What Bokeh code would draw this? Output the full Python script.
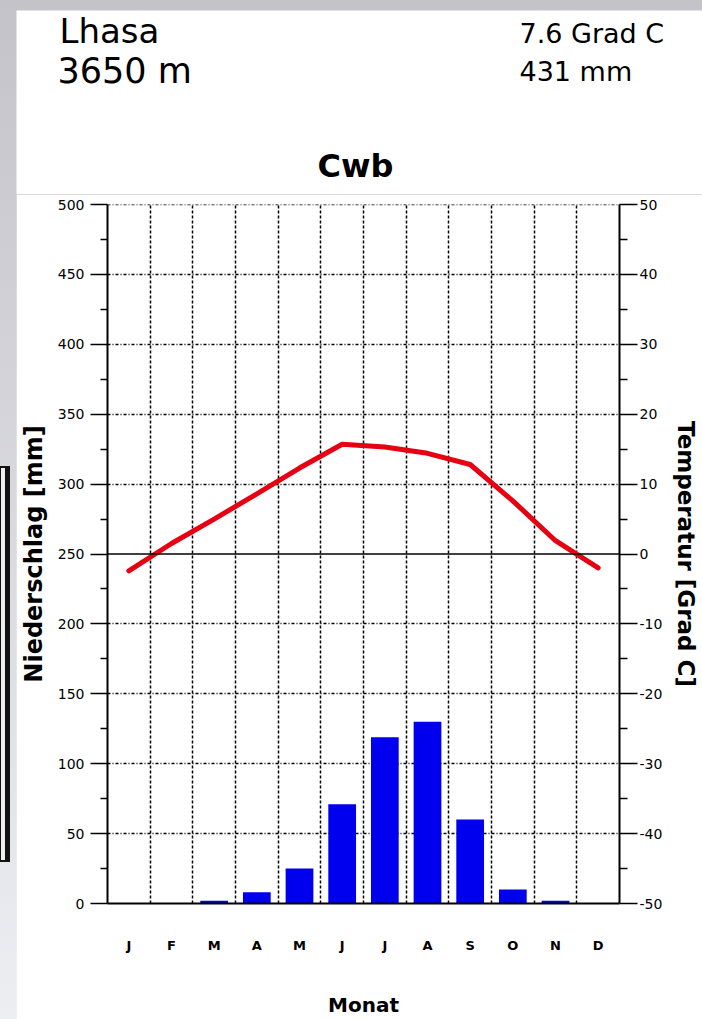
from bokeh.plotting import figure
from bokeh.models import (Range1d, LinearAxis, FixedTicker, Span, ColumnDataSource)
from bokeh.core.properties import value
from bokeh.embed import file_html
from bokeh.resources import INLINE

# ---- data ----
months = [1, 2, 3, 4, 5, 6, 7, 8, 9, 10, 11, 12]
month_labels = ["J", "F", "M", "A", "M", "J", "J", "A", "S", "O", "N", "D"]
precip_mm = [0, 0, 2, 8, 25, 71, 119, 130, 60, 10, 2, 0]
temp_c = [-2.4, 1.5, 5.0, 8.6, 12.3, 15.7, 15.3, 14.4, 12.8, 7.6, 1.9, -2.0]
station = "Lhasa"
elevation = "3650 m"
mean_temp = "7.6 Grad C"
annual_precip = "431 mm"
climate_class = "Cwb"
precip_ticks = [0, 50, 100, 150, 200, 250, 300, 350, 400, 450, 500]
temp_ticks = [-50, -40, -30, -20, -10, 0, 10, 20, 30, 40, 50]

FONT = "DejaVu Sans"
PAGE_X0, PAGE_Y0 = 16, 10       # where the canvases start on the page
W = 686
H_HEAD = 184                    # header: page y 10..194
H_MAIN = 825                    # chart:  page y 194..1019
BL, BR, BT, BB = 88, 79, 10, 116

# ---------- header (station name, height, means, climate class) ----------
hd = figure(width=W, height=H_HEAD, output_backend="svg", toolbar_location=None,
            x_range=Range1d(0, W), y_range=Range1d(H_HEAD, 0),
            x_axis_location=None, y_axis_location=None, min_border=0,
            outline_line_color=None, background_fill_color="white",
            border_fill_color="white")
hd.grid.visible = False

def head_text(txt, px, py_base, size_px, align="left", bold=False):
    # py_base: wanted page y of the text baseline
    hd.text(x=[px - PAGE_X0], y=[py_base - PAGE_Y0 - 0.41 * size_px], text=[txt],
            text_font=value(FONT), text_font_size=value("%dpx" % size_px),
            text_align=align, text_baseline="alphabetic", text_color="black",
            text_font_style="bold" if bold else "normal")

head_text(station, 59, 44, 34)
head_text(elevation, 57, 85, 35)
head_text(mean_temp, 519, 44, 27)
head_text(annual_precip, 519, 82, 27)
head_text(climate_class, 355, 179, 32, align="center", bold=True)

# ---------- climate chart ----------
p = figure(width=W, height=H_MAIN, output_backend="svg", toolbar_location=None,
           x_range=Range1d(0.5, 12.5), y_range=Range1d(0, 500),
           min_border_left=BL, min_border_right=BR, min_border_top=BT,
           min_border_bottom=BB, outline_line_color=None,
           background_fill_color="white", border_fill_color="white")
p.extra_y_ranges = {"temp": Range1d(-50, 50)}

# grids
p.xgrid.ticker = FixedTicker(ticks=[m + 0.5 for m in months[:-1]])
p.xgrid.grid_line_color = "black"
p.xgrid.grid_line_dash = "3 2"
p.xgrid.grid_line_width = 1.5
p.ygrid.ticker = FixedTicker(ticks=[t for t in precip_ticks if t not in (0, 250)])
p.ygrid.grid_line_color = "black"
p.ygrid.grid_line_dash = "3 2 1 2"
p.ygrid.grid_line_width = 1.5
p.add_layout(Span(location=precip_ticks[-1], dimension="width", line_color="black",
                  line_dash="3 2 1 2", line_width=1.5))

# bars
src = ColumnDataSource(dict(x=months, top=precip_mm))
p.vbar(x="x", top="top", bottom=0, width=0.65, source=src,
       fill_color="#0000ee", line_color=None)

# zero-degree line
p.add_layout(Span(location=250, dimension="width", line_color="black", line_width=1.5))

# temperature line
p.line(months, temp_c, y_range_name="temp", line_color="#e60012", line_width=5,
       line_join="round", line_cap="round")

# x axis
xa = p.xaxis[0]
xa.ticker = FixedTicker(ticks=months)
xa.major_label_overrides = {m: l for m, l in zip(months, month_labels)}
xa.major_tick_out = 0
xa.major_tick_in = 0
xa.minor_tick_out = 0
xa.axis_line_width = 2
xa.major_label_standoff = 34
xa.major_label_text_font = FONT
xa.major_label_text_font_style = "bold"
xa.major_label_text_font_size = "13px"
xa.major_label_text_color = "black"
xa.axis_label = "Monat"
xa.axis_label_text_font = FONT
xa.axis_label_text_font_style = "bold"
xa.axis_label_text_font_size = "20px"
xa.axis_label_text_color = "black"
xa.axis_label_standoff = 37

# left axis
ya = p.yaxis[0]
ya.ticker = FixedTicker(ticks=precip_ticks, minor_ticks=[t + 25 for t in precip_ticks[:-1]])
ya.axis_line_width = 2
ya.major_tick_out = 17
ya.major_tick_in = 0
ya.minor_tick_out = 7
ya.minor_tick_in = 0
ya.major_tick_line_width = 1.5
ya.minor_tick_line_width = 1.5
ya.major_label_standoff = 6
ya.major_label_text_font = FONT
ya.major_label_text_font_size = "14px"
ya.major_label_text_color = "black"
ya.axis_label = "Niederschlag [mm]"
ya.axis_label_text_font = FONT
ya.axis_label_text_font_style = "bold"
ya.axis_label_text_font_size = "24px"
ya.axis_label_text_color = "black"
ya.axis_label_standoff = 7

# right axis
ra = LinearAxis(y_range_name="temp",
                ticker=FixedTicker(ticks=temp_ticks, minor_ticks=[t + 5 for t in temp_ticks[:-1]]))
ra.major_label_overrides = {t: str(t) for t in temp_ticks}
ra.axis_line_width = 2
ra.major_tick_out = 18
ra.major_tick_in = 0
ra.minor_tick_out = 8
ra.minor_tick_in = 0
ra.major_tick_line_width = 1.5
ra.minor_tick_line_width = 1.5
ra.major_label_standoff = 2
ra.major_label_text_font = FONT
ra.major_label_text_font_size = "14px"
ra.major_label_text_color = "black"
ra.axis_label = "Temperatur [Grad C]"
ra.axis_label_text_font = FONT
ra.axis_label_text_font_style = "bold"
ra.axis_label_text_font_size = "23px"
ra.axis_label_text_color = "black"
ra.axis_label_standoff = 8
p.add_layout(ra, "right")

html = file_html([hd, p], INLINE, title="Lhasa")
html = html.replace("</head>",
                    "<style>html, body { background: linear-gradient(#c4c3c9, #eceef2) fixed; }"
                    " body { margin: %dpx 0 0 %dpx; }</style></head>" % (PAGE_Y0, PAGE_X0), 1)
html = html.replace("</body>", '<div style="position:absolute;left:0;top:466px;width:4px;height:392px;'
                    'border:2px solid #111;border-left-width:1px;border-right-width:5px;background:#eeeeee;"></div></body>', 1)
open("out.html", "w").write(html)
